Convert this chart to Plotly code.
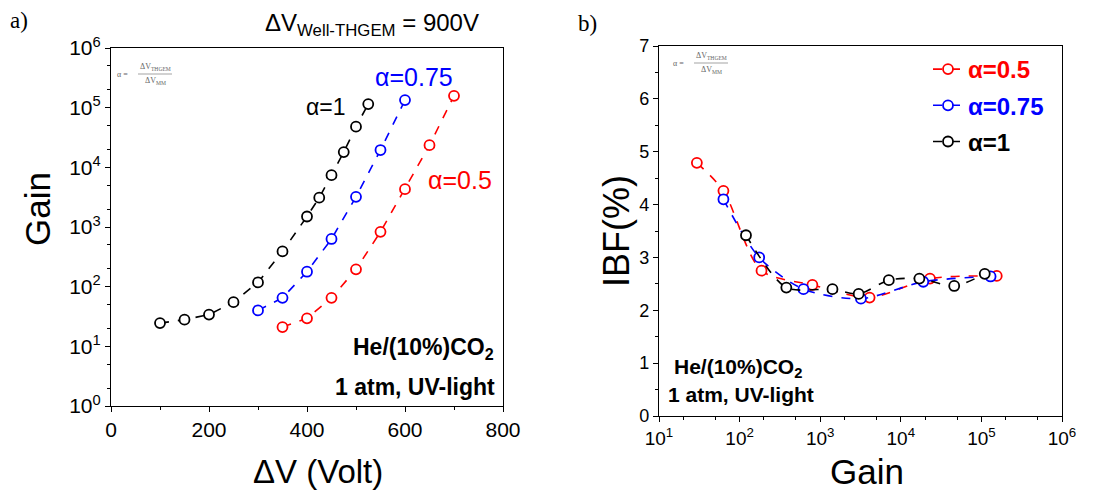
import plotly.graph_objects as go

# ---- Panel a: Gain vs ΔV ----
v_a1 = [100, 150, 200, 250, 300, 350, 400, 425, 450, 475, 500, 525]
g_a1 = [24.5, 28, 34, 55, 118, 390, 1500, 3100, 7400, 18000, 48000, 115000]
v_a075 = [300, 350, 400, 450, 500, 550, 600]
g_a075 = [40, 65, 178, 630, 3200, 19500, 134000]
v_a05 = [350, 400, 450, 500, 550, 600, 650, 700]
g_a05 = [21, 29.5, 65, 195, 830, 4300, 23500, 158000]

# ---- Panel b: IBF vs Gain ----
gb_05 = [29.5, 63, 187, 800, 4100, 23000, 155000]
ibf_05 = [4.79, 4.26, 2.75, 2.48, 2.24, 2.60, 2.65]
gb_075 = [63, 175, 620, 3200, 19000, 130000]
ibf_075 = [4.10, 3.00, 2.40, 2.22, 2.54, 2.64]
gb_1 = [120, 380, 1420, 3000, 7100, 17000, 46000, 110000]
ibf_1 = [3.42, 2.43, 2.40, 2.31, 2.57, 2.60, 2.46, 2.69]

RED, BLUE, BLACK = "#ff0000", "#0000ff", "#000000"
FONT = "Liberation Sans, Arial, sans-serif"
SERIF = "Liberation Serif, Times New Roman, serif"

fig = go.Figure()

def mk(color):
    return dict(symbol="circle", size=10, color="white", line=dict(color=color, width=1.8))

for x, y, c in [(v_a05, g_a05, RED), (v_a075, g_a075, BLUE), (v_a1, g_a1, BLACK)]:
    fig.add_trace(go.Scatter(x=x, y=y, mode="lines+markers", xaxis="x", yaxis="y",
                             line=dict(color=c, width=1.6, dash="dash"), marker=mk(c),
                             showlegend=False))

names = ["<b>α=0.5</b>", "<b>α=0.75</b>", "<b>α=1</b>"]
for i, ((x, y, c), n) in enumerate(zip([(gb_05, ibf_05, RED), (gb_075, ibf_075, BLUE), (gb_1, ibf_1, BLACK)], names)):
    fig.add_trace(go.Scatter(x=x, y=y, mode="lines+markers", xaxis="x2", yaxis="y2",
                             line=dict(color=c, width=1.6, dash="dash", shape="spline", smoothing=0.8),
                             marker=mk(c), name=f"<span style='color:{c}'>{n}</span>",
                             legendgroup=f"g{i}"))

W, H = 1094, 493
def px(x): return x / W
def py(y): return 1 - y / H

axis_common = dict(showline=True, linecolor="black", linewidth=1.2, mirror=True,
                   ticks="outside", tickcolor="black", ticklen=5, tickwidth=1.2,
                   showgrid=False, zeroline=False, automargin=False,
                   tickfont=dict(family=FONT, size=21, color="black"))

decades = [0, 1, 2, 3, 4, 5, 6]
fig.update_layout(
    width=W, height=H, margin=dict(l=0, r=0, t=0, b=0, autoexpand=False),
    paper_bgcolor="white", plot_bgcolor="white",
    font=dict(family=FONT, color="black"),
    xaxis=dict(axis_common, domain=[px(111), px(503)], range=[0, 800], dtick=200,
               minor=dict(ticks="outside", ticklen=3, dtick=100, tickcolor="black"), anchor="y"),
    yaxis=dict(axis_common, domain=[py(406), py(48)], type="log", range=[0, 6],
               tickvals=[10 ** d for d in decades], ticktext=[f"10<sup>{d}</sup>" for d in decades],
               minor=dict(ticks="outside", ticklen=3, tickcolor="black"), anchor="x"),
    xaxis2=dict(axis_common, domain=[px(659), px(1062)], type="log", range=[1, 6],
                tickfont=dict(family=FONT, size=19, color="black"),
                tickvals=[10 ** d for d in range(1, 7)], ticktext=[f"10<sup>{d}</sup>" for d in range(1, 7)],
                minor=dict(ticks="outside", ticklen=3, tickcolor="black"), anchor="y2"),
    yaxis2=dict(axis_common, domain=[py(416), py(46)], range=[0, 7], dtick=1,
                tickfont=dict(family=FONT, size=18, color="black"),
                minor=dict(ticks="outside", ticklen=3, dtick=0.5, tickcolor="black"), anchor="x2"),
    legend=dict(x=px(928), y=py(47), xanchor="left", yanchor="top",
                bgcolor="rgba(0,0,0,0)", font=dict(family=FONT, size=24),
                tracegroupgap=2, itemwidth=30),
)

ann = []
def A(text, x, y, size, color="black", family=FONT, xanchor="center", textangle=0, **kw):
    ann.append(dict(text=text, x=px(x), y=py(y), xref="paper", yref="paper", showarrow=False,
                    xanchor=xanchor, yanchor="middle", textangle=textangle,
                    font=dict(family=family, size=size, color=color), **kw))

A("a)", 19, 20, 23, family=SERIF)
A("b)", 587, 23, 23, family=SERIF)
A("ΔV<sub>Well-THGEM</sub> = 900V", 372, 25, 24)
A("Gain", 37, 209, 35, textangle=-90)
A("ΔV (Volt)", 318, 471, 33)
A("IBF(%)", 616, 231, 36, textangle=-90)
A("Gain", 867, 471, 35)
A("α=1", 326, 107, 23, color=BLACK)
A("α=0.75", 414, 77, 25, color=BLUE)
A("α=0.5", 460, 180, 25, color=RED)
A("<b>He/(10%)CO<sub>2</sub></b>", 496, 348, 23, xanchor="right")
A("<b>1 atm, UV-light</b>", 497, 387, 23, xanchor="right")
A("<b>He/(10%)CO<sub>2</sub></b>", 738, 368, 21)
A("<b>1 atm, UV-light</b>", 741, 394, 21)

# tiny formula labels
GRAY = "#666666"
for (ax, ay) in [(115, 74), (671, 63)]:
    A("α =", ax, ay, 8, color=GRAY, family=SERIF, xanchor="left")
    A("ΔV<sub>THGEM</sub>", ax + 40, ay - 7, 8, color=GRAY, family=SERIF)
    A("ΔV<sub>MM</sub>", ax + 40, ay + 7, 8, color=GRAY, family=SERIF)

fig.update_layout(annotations=ann)
shapes = []
for (ax, ay) in [(115, 74), (671, 63)]:
    shapes.append(dict(type="line", xref="paper", yref="paper", x0=px(ax + 23), x1=px(ax + 57),
                       y0=py(ay), y1=py(ay), line=dict(color=GRAY, width=0.6)))
fig.update_layout(shapes=shapes)

fig.write_html("out.html")
